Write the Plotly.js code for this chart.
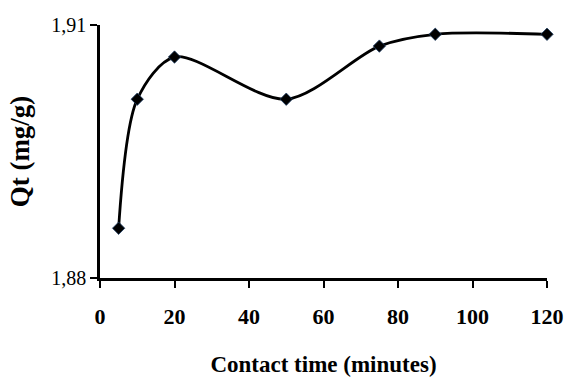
<!DOCTYPE html>
<html>
<head>
<meta charset="utf-8">
<script src="https://cdn.plot.ly/plotly-3.0.1.min.js"></script>
<style>
  html, body { margin: 0; padding: 0; background: #fff; }
  #chart { width: 564px; height: 379px; }
</style>
</head>
<body>
<div id="chart"></div>
<script>
const contactTime = [5, 10, 20, 50, 75, 90, 120];
const qt = [1.8859, 1.9012, 1.9062, 1.9012, 1.9075, 1.9089, 1.9089];
const xTickVals = [0, 20, 40, 60, 80, 100, 120];
const yTickVals = [1.88, 1.91];
const yTickText = ["1,88", "1,91"];

const trace = {
  x: contactTime,
  y: qt,
  type: 'scatter',
  mode: 'lines+markers',
  line: { color: '#000', width: 2.8, shape: 'spline', smoothing: 0.85 },
  marker: { symbol: 'diamond', size: 9.5, color: '#000', line: { color: '#1f3f66', width: 0.8 } },
  cliponaxis: false,
  hoverinfo: 'skip'
};

const layout = {
  width: 564,
  height: 379,
  margin: { l: 100, r: 17, t: 25, b: 101 },
  paper_bgcolor: '#fff',
  plot_bgcolor: '#fff',
  showlegend: false,
  font: { family: 'Liberation Serif', size: 20, color: '#000' },
  xaxis: {
    range: [0, 120],
    tickvals: xTickVals,
    ticktext: xTickVals.map(v => '<b>' + v + '</b>'),
    ticks: 'outside',
    ticklen: 7,
    tickwidth: 2,
    tickcolor: '#000',
    showline: true,
    linecolor: '#000',
    linewidth: 2.8,
    showgrid: false,
    zeroline: false,
    tickfont: { family: 'Liberation Serif', size: 22, color: '#000' },
    ticklabelstandoff: 10,
    title: { text: '<b>Contact time (minutes)</b>', font: { family: 'Liberation Serif', size: 23, color: '#000' }, standoff: 28 }
  },
  yaxis: {
    range: [1.88, 1.91],
    tickvals: yTickVals,
    ticktext: yTickText,
    ticks: 'outside',
    ticklen: 7,
    tickwidth: 2,
    tickcolor: '#000',
    showline: true,
    linecolor: '#000',
    linewidth: 2.8,
    showgrid: false,
    zeroline: false,
    tickfont: { family: 'Liberation Serif', size: 20, color: '#000' },
    title: { text: '<b>Qt (mg/g)</b>', font: { family: 'Liberation Serif', size: 27, color: '#000' }, standoff: 14 }
  }
};

Plotly.newPlot('chart', [trace], layout, { displayModeBar: false, staticPlot: true });
</script>
</body>
</html>
